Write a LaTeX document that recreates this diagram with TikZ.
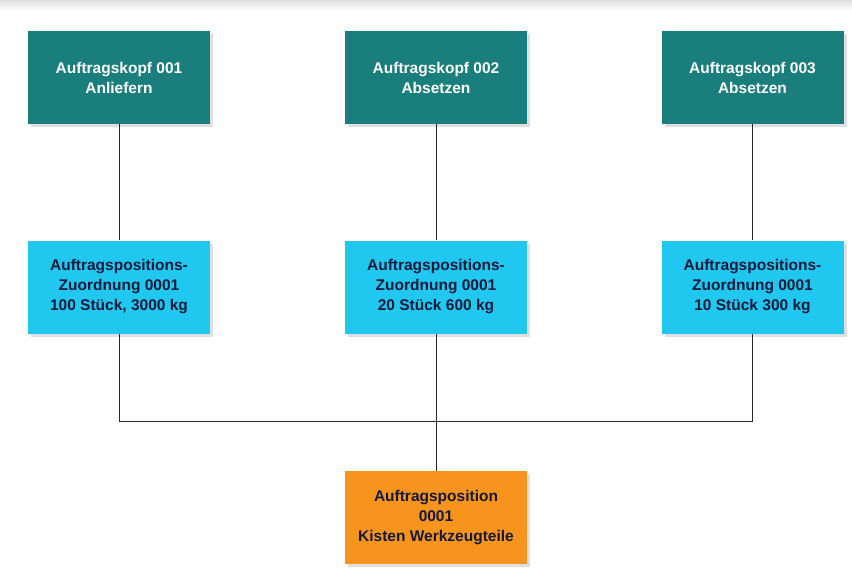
\documentclass[tikz,border=0pt]{standalone}
\usepackage{fontspec}
\setmainfont{Liberation Sans}
\usetikzlibrary{shadows}
\definecolor{teal1}{HTML}{1A7F7C}
\definecolor{cyan1}{HTML}{20C8F0}
\definecolor{orange1}{HTML}{F7941E}
\definecolor{txtdark}{HTML}{14183A}
\tikzset{
  box/.style={minimum width=182pt, minimum height=93pt, inner sep=0pt, align=center,
    font=\bfseries\fontsize{15.5}{20}\selectfont,
    drop shadow={shadow xshift=3pt, shadow yshift=-3pt, opacity=0.25, fill=gray}},
  kopfbox/.style={box, fill=teal1, text=white},
  zuordbox/.style={box, fill=cyan1, text=txtdark},
  posbox/.style={box, fill=orange1, text=txtdark},
  conn/.style={draw=black!85, line width=0.9pt}
}
\begin{document}
\begin{tikzpicture}[x=1pt,y=-1pt]
\useasboundingbox (0,0) rectangle (852,579);
\shade[top color=gray!25, bottom color=white] (0,0) rectangle (852,11);
\node[kopfbox] (k1) at (119,77.5) {Auftragskopf 001\\Anliefern};
\node[kopfbox] (k2) at (436,77.5) {Auftragskopf 002\\Absetzen};
\node[kopfbox] (k3) at (752.5,77.5) {Auftragskopf 003\\Absetzen};
\node[zuordbox] (z1) at (119,287) {Auftragspositions-\\Zuordnung 0001\\100 Stück, 3000 kg};
\node[zuordbox] (z2) at (436,287) {Auftragspositions-\\Zuordnung 0001\\20 Stück 600 kg};
\node[zuordbox] (z3) at (752.5,287) {Auftragspositions-\\Zuordnung 0001\\10 Stück 300 kg};
\node[posbox] (p) at (436,517.5) {Auftragsposition\\0001\\Kisten Werkzeugteile};
\coordinate (j1) at (z1.south |- 0,421);
\coordinate (j2) at (z2.south |- 0,421);
\coordinate (j3) at (z3.south |- 0,421);
\draw[conn] (k1) -- (z1);
\draw[conn] (k2) -- (z2);
\draw[conn] (k3) -- (z3);
\draw[conn] (z1.south) -- (j1) -- (j3) -- (z3.south);
\draw[conn] (z2.south) -- (p.north);
\end{tikzpicture}
\end{document}
